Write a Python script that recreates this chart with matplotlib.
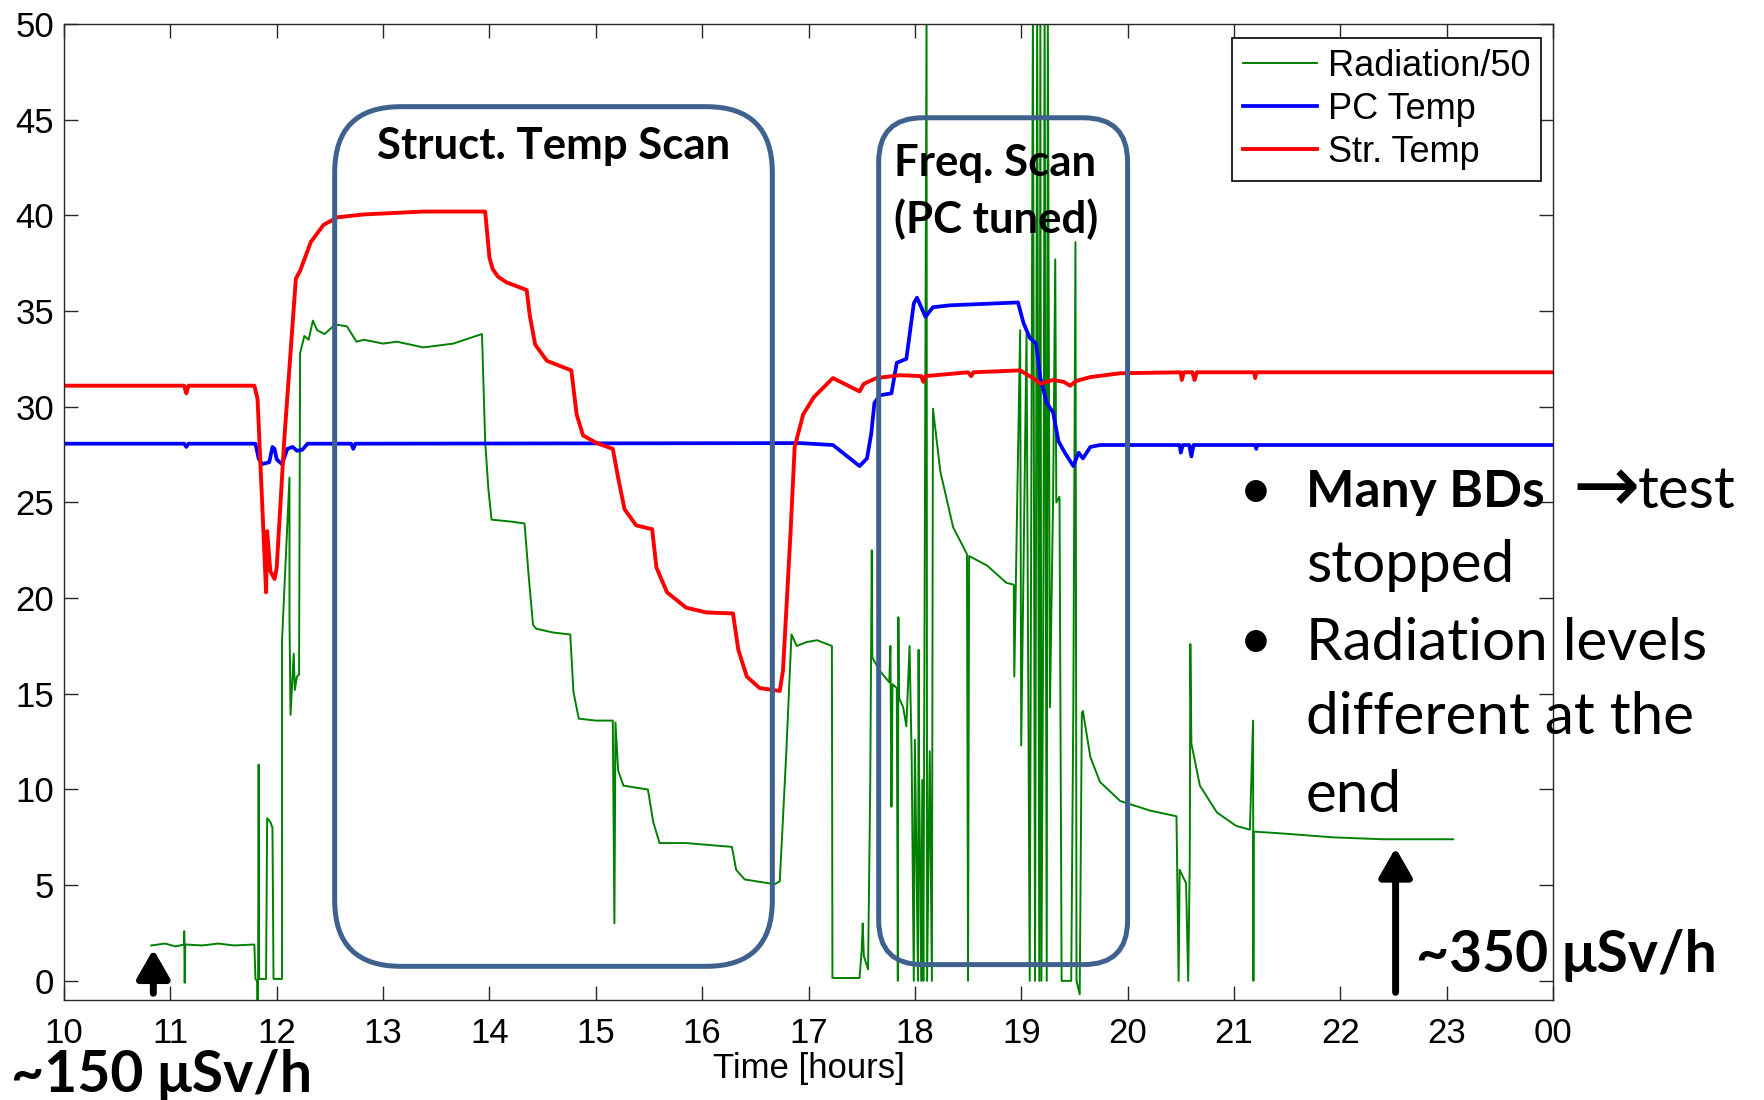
import numpy as np
import matplotlib.pyplot as plt
from matplotlib.patches import FancyBboxPatch

# time in hours, values as plotted (radiation already divided by 50)
green_t = [10.82, 10.95, 11.05, 11.13, 11.13, 11.135, 11.14, 11.3, 11.45, 11.6, 11.79, 11.80, 11.815,
           11.82, 11.825, 11.83, 11.835, 11.90, 11.91, 11.94, 11.96, 11.97, 12.05, 12.05, 12.12, 12.12,
           12.13, 12.16, 12.17, 12.19, 12.21, 12.22, 12.26, 12.30, 12.34, 12.38, 12.45, 12.55, 12.66,
           12.75, 12.82, 13.0, 13.13, 13.38, 13.66, 13.93, 13.96, 13.99, 14.02, 14.20, 14.33, 14.37,
           14.41, 14.44, 14.60, 14.76, 14.79, 14.84, 15.0, 15.16, 15.175, 15.185, 15.21, 15.26, 15.49,
           15.54, 15.60, 15.85, 16.28, 16.32, 16.40, 16.68, 16.73, 16.79, 16.84, 16.89, 16.98, 17.08,
           17.22, 17.225, 17.48, 17.50, 17.51, 17.52, 17.56, 17.58, 17.59, 17.595, 17.60, 17.67, 17.76,
           17.77, 17.78, 17.79, 17.83, 17.84, 17.845, 17.85, 17.89, 17.92, 17.95, 17.97, 17.99, 18.0,
           18.03, 18.035, 18.04, 18.06, 18.07, 18.08, 18.11, 18.115, 18.14, 18.16, 18.17, 18.24, 18.36,
           18.49, 18.50, 18.51, 18.68, 18.86, 18.93, 18.935, 18.96, 18.99, 19.0, 19.02, 19.05, 19.08,
           19.11, 19.13, 19.15, 19.17, 19.18, 19.19, 19.21, 19.22, 19.24, 19.25, 19.27, 19.30, 19.32,
           19.33, 19.36, 19.38, 19.47, 19.49, 19.51, 19.52, 19.55, 19.57, 19.58, 19.65, 19.74, 19.93,
           20.21, 20.46, 20.48, 20.49, 20.55, 20.57, 20.585, 20.59, 20.60, 20.68, 20.84, 21.02, 21.15,
           21.18, 21.183, 21.186, 21.46, 21.93, 22.40, 23.06]
green_v = [1.85, 1.95, 1.8, 1.9, 2.6, -0.1, 1.9, 1.85, 1.95, 1.85, 1.9, 0.1, 0.0,
           -1.0, 0.1, 11.3, 0.1, 0.1, 8.5, 8.3, 8.0, 0.1, 0.1, 17.8, 26.3, 19.0,
           13.9, 17.1, 15.2, 15.9, 16.0, 32.8, 33.7, 33.5, 34.5, 34.0, 33.8, 34.3, 34.2,
           33.4, 33.5, 33.3, 33.4, 33.1, 33.3, 33.8, 28.2, 25.7, 24.1, 24.0, 23.9, 21.1,
           18.6, 18.4, 18.2, 18.1, 15.1, 13.7, 13.6, 13.6, 3.0, 13.5, 11.0, 10.2, 10.0,
           8.3, 7.2, 7.2, 7.0, 5.8, 5.3, 5.05, 5.2, 11.8, 18.1, 17.5, 17.7, 17.8,
           17.5, 0.15, 0.15, 1.6, 3.0, 1.3, 0.6, 10.0, 18.0, 22.5, 16.9, 16.2, 15.6,
           17.5, 9.1, 15.5, 15.3, 0.0, 19.0, 14.8, 14.3, 13.3, 17.5, 11.7, 0.0, 12.6,
           0.0, 17.3, 11.0, 0.0, 10.5, 0.0, 51.0, 0.0, 12.0, 0.0, 29.9, 26.6, 23.7,
           22.3, 0.0, 22.2, 21.7, 20.8, 20.7, 15.9, 24.3, 34.0, 12.3, 20.8, 33.8, 0.0,
           51.0, 0.0, 51.0, 0.0, 51.0, 0.0, 22.4, 51.0, 0.0, 51.0, 14.3, 25.3, 37.7,
           25.0, 25.3, 0.0, 0.0, 14.3, 38.6, 0.0, -0.7, 14.0, 14.1, 11.7, 10.4, 9.4,
           8.9, 8.6, 0.0, 5.8, 5.1, 0.0, 6.4, 17.6, 12.4, 10.2, 8.8, 8.1, 7.9,
           13.6, 0.0, 7.8, 7.7, 7.5, 7.4, 7.4]

blue_t = [10.0, 11.13, 11.15, 11.17, 11.80, 11.83, 11.86, 11.93, 11.96, 11.98, 12.0, 12.05, 12.1,
          12.15, 12.19, 12.24, 12.29, 12.70, 12.72, 12.74, 16.92, 17.23, 17.48, 17.55, 17.59, 17.62,
          17.67, 17.78, 17.83, 17.92, 17.99, 18.02, 18.10, 18.17, 18.33, 18.97, 19.02, 19.08, 19.14,
          19.18, 19.24, 19.30, 19.35, 19.41, 19.49, 19.54, 19.58, 19.65, 19.74, 20.49, 20.5, 20.52,
          20.58, 20.6, 20.62, 21.2, 21.21, 21.22, 24.0]
blue_v = [28.07, 28.07, 27.9, 28.07, 28.07, 27.3, 27.0, 27.1, 27.9, 27.8, 27.25, 27.0, 27.8,
          27.9, 27.7, 27.75, 28.07, 28.07, 27.8, 28.07, 28.1, 28.0, 26.9, 27.3, 28.6, 30.2,
          30.6, 30.7, 32.3, 32.5, 35.4, 35.7, 34.7, 35.2, 35.3, 35.45, 34.4, 33.6, 33.3,
          31.5, 30.2, 29.7, 28.2, 27.6, 26.9, 27.6, 27.3, 27.9, 28.0, 28.0, 27.6, 28.0,
          28.0, 27.4, 28.0, 28.0, 27.8, 28.0, 28.0]

red_t = [10.0, 11.13, 11.15, 11.17, 11.79, 11.82, 11.90, 11.91, 11.94, 11.98, 12.0, 12.07, 12.18,
         12.22, 12.32, 12.44, 12.57, 12.82, 13.38, 13.96, 13.98, 14.0, 14.03, 14.08, 14.16, 14.35,
         14.38, 14.43, 14.54, 14.77, 14.82, 14.88, 15.01, 15.16, 15.21, 15.27, 15.38, 15.53, 15.57,
         15.67, 15.85, 16.04, 16.29, 16.34, 16.42, 16.54, 16.73, 16.76, 16.83, 16.87, 16.95, 17.05,
         17.23, 17.48, 17.52, 17.64, 17.86, 18.06, 18.08, 18.10, 18.5, 18.53, 18.55, 18.99, 19.11,
         19.18, 19.30, 19.40, 19.46, 19.52, 19.65, 19.93, 20.50, 20.51, 20.53, 20.61, 20.63, 20.65,
         21.19, 21.2, 21.21, 24.0]
red_v = [31.1, 31.1, 30.7, 31.1, 31.1, 30.4, 20.3, 23.5, 21.4, 21.0, 21.6, 28.2, 36.7,
         37.1, 38.6, 39.5, 39.9, 40.05, 40.2, 40.2, 39.0, 37.8, 37.2, 36.8, 36.5, 36.1,
         34.75, 33.25, 32.4, 31.9, 29.6, 28.5, 28.1, 27.8, 26.3, 24.65, 23.8, 23.6, 21.6,
         20.3, 19.5, 19.25, 19.2, 17.3, 15.9, 15.3, 15.15, 16.2, 23.3, 27.9, 29.6, 30.5,
         31.5, 30.8, 31.2, 31.5, 31.65, 31.6, 31.3, 31.6, 31.8, 31.6, 31.8, 31.9, 31.5,
         31.2, 31.4, 31.3, 31.1, 31.35, 31.55, 31.75, 31.8, 31.4, 31.8, 31.8, 31.4, 31.8,
         31.8, 31.5, 31.8, 31.8]

hours = list(range(10, 25))
hour_labels = [str(h) for h in range(10, 24)] + ['00']
y_ticks = list(range(0, 55, 5))

W, H = 1765, 1100
plt.rcParams['font.family'] = ['Liberation Sans', 'DejaVu Sans']
fig = plt.figure(figsize=(W / 100, H / 100), dpi=100)
ax = fig.add_axes([64 / W, 1 - 1000 / H, (1553 - 64) / W, (1000 - 24) / H])

ax.plot(green_t, green_v, color='#008000', lw=1.4, label='Radiation/50', zorder=2)
ax.plot(blue_t, blue_v, color='#0000FF', lw=2.7, label='PC Temp', zorder=2.1)
ax.plot(red_t, red_v, color='#FF0000', lw=2.8, label='Str. Temp', zorder=2.2)

ax.set_xlim(10, 24)
ax.set_ylim(-1, 50)
ax.set_xticks(hours)
ax.set_xticklabels(hour_labels)
ax.set_yticks(y_ticks)
ax.set_yticklabels([str(v) for v in y_ticks])
ax.tick_params(direction='in', length=10, width=1, top=True, right=True,
               labelsize=25, colors='#262626', labelcolor='black')
ax.tick_params(axis='y', pad=7)
ax.tick_params(axis='x', pad=12)
for s in ax.spines.values():
    s.set_color('#262626')
    s.set_linewidth(1)
ax.set_xlabel('Time [hours]', fontsize=25, labelpad=2)

leg = ax.legend(loc='upper right', bbox_to_anchor=(1541 / W, 1 - 38 / H),
                bbox_transform=fig.transFigure, borderaxespad=0, fancybox=False,
                edgecolor='black', framealpha=1, handlelength=2.05,
                handletextpad=0.3, labelspacing=0.22, borderpad=0.3,
                prop={'family': 'Liberation Sans', 'size': 26})
leg.get_frame().set_linewidth(1.2)
leg.set_zorder(5)

# rounded boxes around the scan periods, corners kept circular on screen
pos = ax.get_position()
px_x = pos.width * W / 14.0
px_y = pos.height * H / 51.0
box_col = '#3F618E'
for (x0, x1, y0, y1, r) in [(12.545, 16.66, 0.76, 45.68, 66), (17.66, 20.0, 0.85, 45.1, 44)]:
    box = FancyBboxPatch((x0, y0), x1 - x0, y1 - y0,
                         boxstyle=f'round,pad=0,rounding_size={r / px_x}',
                         mutation_aspect=px_x / px_y, fill=False,
                         ec=box_col, lw=3.6, zorder=4)
    ax.add_patch(box)

bold = dict(family=['Lato', 'DejaVu Sans'], fontweight='bold', color='black')
ax.text(14.6, 43.6, 'Struct. Temp Scan', ha='center', va='center', fontsize=31.5, zorder=6, **bold)
ax.text(17.8, 42.75, 'Freq. Scan', ha='left', va='center', fontsize=31.5, zorder=6, **bold)
ax.text(17.8, 39.8, '(PC tuned)', ha='left', va='center', fontsize=31.5, zorder=6, **bold)

# arrows marking the radiation readings
arrow = dict(arrowstyle='-|>,head_length=0.7,head_width=0.4', color='black', lw=5,
             mutation_scale=25, shrinkA=0, shrinkB=0)
ax.annotate('', xy=(10.84, 1.65), xytext=(10.84, -0.65), arrowprops=arrow,
            annotation_clip=False, zorder=6)
ax.annotate('', xy=(22.52, 6.95), xytext=(22.52, -0.6), arrowprops=arrow,
            annotation_clip=False, zorder=6)


def fpos(x, y):
    return x / W, 1 - y / H


fig.text(*fpos(11, 1075), '~150 μSv/h', ha='left', va='center', fontsize=41, **bold)
fig.text(*fpos(1416, 955), '~350 μSv/h', ha='left', va='center', fontsize=41, **bold)

bullet_font = dict(family=['Lato', 'DejaVu Sans'], color='black', fontsize=42)
fig.text(*fpos(1256, 492), '•', ha='center', va='center', **bullet_font)
fig.text(*fpos(1256, 643), '•', ha='center', va='center', **bullet_font)
t1 = fig.text(*fpos(1306, 492), 'Many BDs', ha='left', va='center', fontweight='bold',
              family=['Lato', 'DejaVu Sans'], color='black', fontsize=37)
fig.canvas.draw()
bb = t1.get_window_extent()
t2 = fig.text((bb.x1 + 28) / W, 1 - 490 / H, '→', ha='left', va='center',
              family='DejaVu Sans', fontsize=58, color='black')
fig.canvas.draw()
bb2 = t2.get_window_extent()
fig.text((bb2.x1 - 2) / W, 1 - 492 / H, 'test', ha='left', va='center', **bullet_font)
lines = ['stopped', 'Radiation levels', 'different at the', 'end']
for txt, yy in zip(lines, [566, 643, 718, 795]):
    fig.text(*fpos(1306, yy), txt, ha='left', va='center', **bullet_font)

fig.savefig('out.png', dpi=100)
